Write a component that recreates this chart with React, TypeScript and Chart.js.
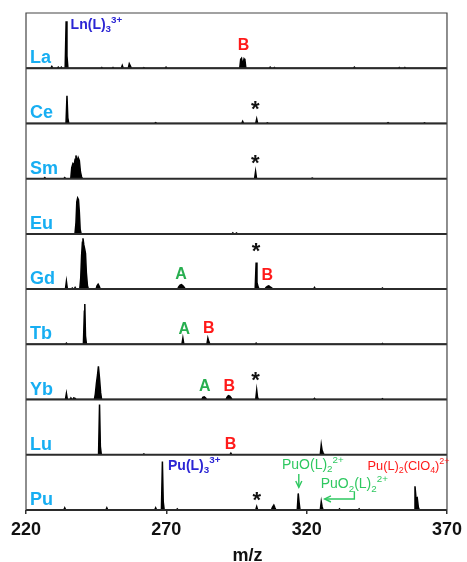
import React, { useEffect, useRef } from 'react';
import { Chart, registerables } from 'chart.js';

Chart.register(...registerables);

const FONT = "'Liberation Sans', Arial, Helvetica, sans-serif";

const PANELS = ['La', 'Ce', 'Sm', 'Eu', 'Gd', 'Tb', 'Yb', 'Lu', 'Pu'];
const X_MIN = 220;
const X_MAX = 370;
const X_TICKS = [220, 270, 320, 370];
const X_TITLE = 'm/z';

// peaks: [m/z, relative intensity (0-100 of panel height)]
const laPeaks = [[229.2, 3], [231.5, 2], [232.6, 2], [234.3, 85], [234.6, 22], [247, 1.5], [251, 1.5], [254.3, 5], [256.8, 8], [257.2, 4], [262, 1], [269.9, 2], [296.5, 16], [296.8, 18], [297.2, 6], [297.7, 17], [298.0, 15], [307, 2], [308.5, 1.5], [337, 2], [353, 1.5], [355, 1.5]];
const cePeaks = [[234.6, 50], [234.9, 10], [266.2, 1.5], [297.2, 4], [302.2, 8], [306, 1], [349, 1.5], [362, 1]];
const smPeaks = [[226.7, 2], [233.8, 2], [236.3, 20], [236.7, 27], [237.1, 24], [237.5, 35], [237.8, 42], [238.2, 30], [238.6, 38], [239.0, 33], [239.4, 12], [239.8, 3], [301.8, 13], [322, 1]];
const euPeaks = [[237.8, 20], [238.1, 58], [238.4, 65], [238.7, 62], [239.0, 40], [239.3, 8], [293.7, 2], [295, 1.5]];
const gdPeaks = [[234.4, 14], [236.5, 2], [237.5, 3], [239.5, 20], [239.8, 60], [240.1, 85], [240.3, 92], [240.6, 80], [240.9, 73], [241.2, 65], [241.5, 30], [241.9, 6], [245.3, 6], [245.7, 9], [246.1, 5], [274.4, 4], [274.9, 7], [275.4, 8], [275.9, 6], [276.4, 3], [302.0, 48], [302.3, 12], [302.7, 4], [305.5, 3], [306.0, 5], [306.5, 6], [307.0, 4], [307.6, 2], [322.8, 3], [347, 2]];
const tbPeaks = [[234.4, 2], [240.8, 60], [240.95, 73], [241.2, 15], [275.9, 11], [284.8, 11], [285.2, 4], [302, 2], [347, 1.5]];
const ybPeaks = [[234.4, 11], [236, 3], [237, 3], [237.5, 2], [244.7, 10], [245.1, 30], [245.5, 45], [245.8, 60], [246.2, 38], [246.6, 12], [283.0, 4], [283.5, 5], [284, 3], [291.6, 4], [292.1, 7], [292.6, 6], [293.1, 3], [302.2, 17], [302.5, 4], [322.8, 2], [347, 1.5]];
const luPeaks = [[246.2, 91], [246.5, 15], [262, 1.5], [293, 3], [325.2, 18], [325.5, 8], [325.9, 3]];
const puPeaks = [[233.8, 4], [248.8, 4], [266.2, 4], [268.6, 88], [268.9, 15], [273.9, 2], [302.2, 6], [307.8, 5], [308.3, 9], [308.7, 4], [317.0, 30], [317.3, 14], [325.2, 15], [325.5, 6], [331.7, 2], [338.7, 2], [358.6, 43], [359.0, 20], [359.4, 22], [359.8, 5]];

const ALL_PEAKS = [laPeaks, cePeaks, smPeaks, euPeaks, gdPeaks, tbPeaks, ybPeaks, luPeaks, puPeaks];

// annotation marks: [panel index, m/z, y centre]
const STAR_MARKS = [[1, 301.7, 32], [2, 301.7, 35], [4, 302.0, 76], [6, 301.8, 42], [8, 302.2, 24]];
const A_MARKS = [[4, 275.2, 30], [5, 276.4, 29], [6, 283.7, 27]];
const B_MARKS = [[0, 297.5, 44], [4, 306.0, 27], [5, 285.1, 32], [6, 292.4, 27], [7, 292.9, 22]];

const LABEL_BLUE = '#17aef2';
const DARK_BLUE = '#2b25d4';
const GREEN_A = '#27ae4f';
const GREEN_L = '#2ec860';
const RED = '#ff1a1a';

type Part = [string, 'n' | 'sub' | 'sup'];
const RICH_LABELS: { panel: number; mz: number; y: number; parts: Part[]; bold: boolean; color: string; size: number }[] = [
  { panel: 0, mz: 235.9, y: 78, parts: [['Ln(L)', 'n'], ['3', 'sub'], ['3+', 'sup']], bold: true, color: DARK_BLUE, size: 14 },
  { panel: 8, mz: 270.6, y: 80, parts: [['Pu(L)', 'n'], ['3', 'sub'], ['3+', 'sup']], bold: true, color: DARK_BLUE, size: 14 },
  { panel: 8, mz: 311.2, y: 81, parts: [['PuO(L)', 'n'], ['2', 'sub'], ['2+', 'sup']], bold: false, color: GREEN_L, size: 14 },
  { panel: 8, mz: 325.0, y: 46, parts: [['PuO', 'n'], ['2', 'sub'], ['(L)', 'n'], ['2', 'sub'], ['2+', 'sup']], bold: false, color: GREEN_L, size: 14 },
  { panel: 8, mz: 341.7, y: 79, parts: [['Pu(L)', 'n'], ['2', 'sub'], ['(ClO', 'n'], ['4', 'sub'], [')', 'n'], ['2+', 'sup']], bold: false, color: RED, size: 12.8 },
];

const ARROWS = [
  { panel: 8, pts: [[317.2, 65], [317.2, 41]] },
  { panel: 8, pts: [[337.0, 34], [337.0, 20], [326.4, 20]] },
];

const HW = 0.35;
function toSeries(peaks: number[][]) {
  const s = peaks.slice().sort((a, b) => a[0] - b[0]);
  const pts: { x: number; y: number }[] = [{ x: X_MIN, y: 0 }];
  s.forEach(([m, h], i) => {
    const prev = s[i - 1];
    const next = s[i + 1];
    if (!prev || m - prev[0] > 2 * HW) pts.push({ x: m - HW, y: 0 });
    pts.push({ x: m, y: h });
    if (!next || next[0] - m > 2 * HW) pts.push({ x: m + HW, y: 0 });
  });
  pts.push({ x: X_MAX, y: 0 });
  return pts;
}

function drawRich(ctx: CanvasRenderingContext2D, parts: Part[], x: number, y: number, size: number, bold: boolean, color: string) {
  let cx = x;
  ctx.fillStyle = color;
  ctx.textAlign = 'left';
  ctx.textBaseline = 'middle';
  parts.forEach(([t, k]) => {
    const fs = k === 'n' ? size : size * 0.7;
    ctx.font = `${bold ? 'bold ' : ''}${fs}px ${FONT}`;
    const dy = k === 'sub' ? size * 0.3 : k === 'sup' ? -size * 0.36 : 0;
    ctx.fillText(t, cx, y + dy);
    cx += ctx.measureText(t).width;
  });
}

function drawCentered(ctx: CanvasRenderingContext2D, text: string, x: number, y: number, font: string, color: string) {
  ctx.font = font;
  ctx.fillStyle = color;
  ctx.textAlign = 'center';
  ctx.textBaseline = 'alphabetic';
  const m = ctx.measureText(text);
  const asc = m.actualBoundingBoxAscent;
  const desc = m.actualBoundingBoxDescent;
  ctx.fillText(text, x, y + (asc - desc) / 2);
}

const overlay = {
  id: 'overlay',
  afterDatasetsDraw(chart: any) {
    const { ctx, chartArea: a } = chart;
    const xs = chart.scales.x;
    ctx.save();
    PANELS.forEach((name: string, i: number) => {
      const ys = chart.scales['y' + i];
      ctx.strokeStyle = '#2b2b2b';
      ctx.lineWidth = 2;
      ctx.beginPath();
      ctx.moveTo(a.left, ys.bottom);
      ctx.lineTo(a.right, ys.bottom);
      ctx.stroke();
      ctx.font = `bold 18px ${FONT}`;
      ctx.fillStyle = LABEL_BLUE;
      ctx.textAlign = 'left';
      ctx.textBaseline = 'alphabetic';
      ctx.fillText(name, a.left + 4, ys.bottom - 5);
    });
    ctx.strokeStyle = '#444';
    ctx.lineWidth = 1.2;
    ctx.beginPath();
    ctx.moveTo(a.left, a.bottom);
    ctx.lineTo(a.left, a.top);
    ctx.lineTo(a.right, a.top);
    ctx.lineTo(a.right, a.bottom);
    ctx.stroke();

    STAR_MARKS.forEach(([p, mz, y]) => {
      drawCentered(ctx, '*', xs.getPixelForValue(mz), chart.scales['y' + p].getPixelForValue(y), `bold 22px ${FONT}`, '#111');
    });
    A_MARKS.forEach(([p, mz, y]) => {
      drawCentered(ctx, 'A', xs.getPixelForValue(mz), chart.scales['y' + p].getPixelForValue(y), `bold 16px ${FONT}`, GREEN_A);
    });
    B_MARKS.forEach(([p, mz, y]) => {
      drawCentered(ctx, 'B', xs.getPixelForValue(mz), chart.scales['y' + p].getPixelForValue(y), `bold 16px ${FONT}`, RED);
    });
    RICH_LABELS.forEach((l) => {
      drawRich(ctx, l.parts, xs.getPixelForValue(l.mz), chart.scales['y' + l.panel].getPixelForValue(l.y), l.size, l.bold, l.color);
    });
    ARROWS.forEach((ar) => {
      const ys = chart.scales['y' + ar.panel];
      const px = ar.pts.map(([m, v]) => [xs.getPixelForValue(m), ys.getPixelForValue(v)]);
      ctx.strokeStyle = GREEN_L;
      ctx.lineWidth = 1.4;
      ctx.beginPath();
      px.forEach(([x, y], i) => (i === 0 ? ctx.moveTo(x, y) : ctx.lineTo(x, y)));
      ctx.stroke();
      const [x1, y1] = px[px.length - 2];
      const [x2, y2] = px[px.length - 1];
      const ang = Math.atan2(y2 - y1, x2 - x1);
      const L = 7;
      ctx.beginPath();
      ctx.moveTo(x2 - L * Math.cos(ang - 0.45), y2 - L * Math.sin(ang - 0.45));
      ctx.lineTo(x2, y2);
      ctx.lineTo(x2 - L * Math.cos(ang + 0.45), y2 - L * Math.sin(ang + 0.45));
      ctx.stroke();
    });

    ctx.font = `bold 18px ${FONT}`;
    ctx.fillStyle = '#111';
    ctx.textAlign = 'center';
    ctx.textBaseline = 'alphabetic';
    ctx.fillText(X_TITLE, (a.left + a.right) / 2 + 11, 560.5);
    ctx.restore();
  },
};

export default function App() {
  const ref = useRef<HTMLCanvasElement>(null);
  useEffect(() => {
    if (!ref.current) return;
    const scales: any = {
      x: {
        type: 'linear',
        min: X_MIN,
        max: X_MAX,
        position: 'bottom',
        afterBuildTicks: (s: any) => {
          s.ticks = X_TICKS.map((v) => ({ value: v }));
        },
        afterFit: (s: any) => {
          s.height = 52;
        },
        grid: { display: true, drawOnChartArea: false, drawTicks: true, tickLength: 4, color: '#333', lineWidth: 1.5 },
        border: { display: false },
        ticks: { color: '#111', font: { family: FONT, size: 18, weight: 'bold' }, padding: 5, maxRotation: 0 },
      },
    };
    PANELS.forEach((_, i) => {
      scales['y' + i] = {
        type: 'linear',
        position: 'left',
        stack: 'panels',
        stackWeight: 1,
        weight: PANELS.length - i,
        min: 0,
        max: 100,
        display: true,
        grid: { display: false, drawTicks: false },
        ticks: { display: false },
        border: { display: false },
      };
    });
    const datasets = ALL_PEAKS.map((peaks, i) => ({
      label: PANELS[i],
      data: toSeries(peaks),
      xAxisID: 'x',
      yAxisID: 'y' + i,
      borderColor: '#000',
      backgroundColor: '#000',
      borderWidth: 1.5,
      pointRadius: 0,
      tension: 0,
      fill: 'origin',
    }));
    const chart = new Chart(ref.current, {
      type: 'line',
      data: { datasets },
      options: {
        animation: false,
        responsive: false,
        devicePixelRatio: 1,
        events: [],
        layout: { padding: { top: 13, left: 26, right: 17, bottom: 0 } },
        plugins: { legend: { display: false }, tooltip: { enabled: false } },
        scales,
      },
      plugins: [overlay],
    } as any);
    return () => chart.destroy();
  }, []);
  return (
    <div style={{ position: 'absolute', left: 0, top: 0, width: 467, height: 562, background: '#fff' }}>
      <canvas ref={ref} width={467} height={562} />
    </div>
  );
}
